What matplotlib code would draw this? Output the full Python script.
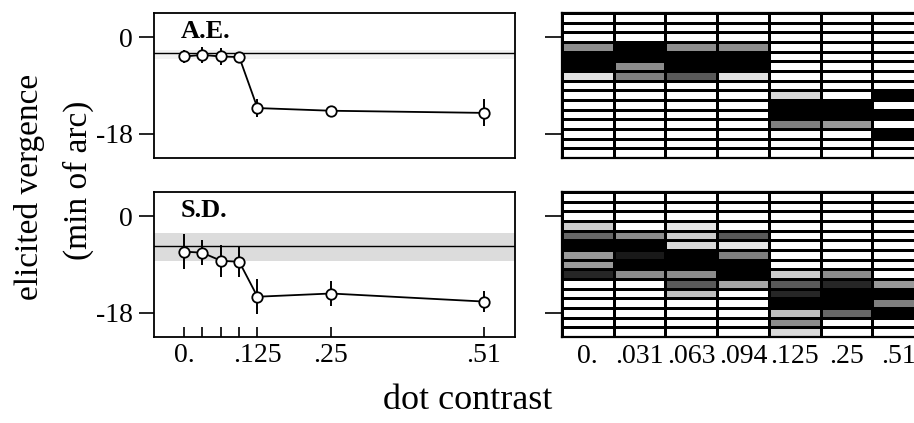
import numpy as np
import matplotlib
matplotlib.use("Agg")
import matplotlib.pyplot as plt

plt.rcParams['font.family'] = ['Liberation Serif', 'DejaVu Serif']

# ---------------- data ----------------
contrast = [0.0, 0.031, 0.063, 0.094, 0.125, 0.25, 0.51]
tick_lab_left = ['0.', '', '', '', '.125', '.25', '.51']
tick_lab_right = ['0.', '.031', '.063', '.094', '.125', '.25', '.51']

ae_mean = [-3.6, -3.3, -3.6, -3.7, -13.2, -13.7, -14.1]
ae_err = [1.2, 1.5, 1.6, 1.0, 1.7, 0.8, 2.5]
ae_ref = -3.0
ae_band = (-2.4, -4.0)

sd_mean = [-6.6, -6.8, -8.3, -8.5, -15.0, -14.4, -15.9]
sd_err = [3.3, 2.3, 3.0, 2.9, 3.3, 2.3, 2.0]
sd_ref = -5.55
sd_band = (-3.05, -8.3)

# histogram shading (rows top->bottom, 15 bins of 1.8 min arc; columns = contrasts)
ae_hist = [
    [0, 0, 0, 0, 0, 0, 0],
    [0, 0, 0, 0, 0, 0, 0],
    [0, 0, 0, 0, 0, 0, 0],
    [.45, 1, .45, .45, 0, 0, 0],
    [1, 1, 1, 1, 0, 0, 0],
    [1, .45, 1, 1, 0, 0, 0],
    [.12, .5, .65, .12, 0, 0, 0],
    [0, 0, 0, 0, 0, 0, 0],
    [0, 0, 0, 0, .15, 0, 1],
    [0, 0, 0, 0, 1, 1, 0],
    [0, 0, 0, 0, 1, 1, 1],
    [0, 0, 0, 0, .5, .4, 0],
    [0, 0, 0, 0, 0, 0, 1],
    [0, 0, 0, 0, 0, 0, 0],
    [0, 0, 0, 0, 0, 0, 0],
]
sd_hist = [
    [0, 0, 0, 0, 0, 0, 0],
    [0, 0, 0, 0, 0, 0, 0],
    [0, 0, 0, 0, 0, 0, 0],
    [.2, 0, .1, 0, 0, 0, 0],
    [.6, .45, .2, .65, 0, 0, 0],
    [1, 1, .15, .1, 0, 0, 0],
    [.4, .9, 1, .5, 0, 0, 0],
    [.4, 1, 1, 1, 0, 0, 0],
    [.85, .45, .45, 1, .2, .45, 0],
    [0, 0, .65, .35, .65, .85, .4],
    [0, 0, .25, 0, .85, 1, 1],
    [0, 0, 0, 0, 1, 1, .5],
    [0, 0, 0, 0, .25, .6, 1],
    [0, 0, 0, 0, .45, 0, 0],
    [0, 0, 0, 0, .15, 0, 0],
]
bin_top = 4.5
bin_width = 1.8

# ---------------- figure ----------------
W, H = 914, 423
fig = plt.figure(figsize=(W / 100, H / 100), dpi=100)

def px_axes(x0, y0, x1, y1):
    return fig.add_axes([x0 / W, 1 - y1 / H, (x1 - x0) / W, (y1 - y0) / H])

ylim = (-22.5, 4.5)
tick_fs = 20

def style_left(ax, bottom):
    ax.set_xlim(-0.051, 0.563)
    ax.set_ylim(*ylim)
    ax.set_yticks([0, -18])
    ax.set_yticklabels(['0', '-18'], fontsize=tick_fs)
    ax.tick_params(axis='y', direction='out', length=11, width=1.2, pad=4)
    for s in ax.spines.values():
        s.set_linewidth(1.3)
    if bottom:
        ax.set_xticks(contrast)
        ax.set_xticklabels(tick_lab_left, fontsize=tick_fs)
        ax.tick_params(axis='x', direction='in', length=7, width=1.2, pad=4)
    else:
        ax.set_xticks([])

def draw_left(ax, mean, err, ref, band, band_color, label):
    ax.axhspan(band[1], band[0], color=band_color, lw=0, zorder=0)
    ax.axhline(ref, color='black', lw=1.0, zorder=1)
    ax.errorbar(contrast, mean, yerr=err, fmt='-o', color='black', lw=1.3,
                elinewidth=1.4, capsize=0, ms=7.5, mfc='white', mec='black',
                mew=1.3, zorder=3)
    ax.text(0.075, 0.95, label, transform=ax.transAxes, fontsize=19,
            fontweight='bold', va='top', ha='left')

def draw_right(ax, hist, bottom):
    data = np.array(hist)
    nrows, ncols = data.shape
    xe = np.arange(ncols + 1)
    ye = bin_top - bin_width * np.arange(nrows + 1)
    ax.pcolormesh(xe, ye, data, cmap='gray_r', vmin=0, vmax=1,
                  edgecolors='black', linewidth=0.85, shading='flat')
    ax.set_xlim(0, ncols)
    ax.set_ylim(*ylim)
    ax.set_yticks([0, -18])
    ax.set_yticklabels([])
    ax.tick_params(axis='y', direction='out', length=12, width=1.2)
    for s in ax.spines.values():
        s.set_linewidth(1.6)
    if bottom:
        ax.set_xticks(np.arange(ncols) + 0.5)
        ax.set_xticklabels(tick_lab_right, fontsize=tick_fs)
        ax.tick_params(axis='x', length=0, pad=5)
    else:
        ax.set_xticks([])

ax1 = px_axes(154, 13, 515, 158)
draw_left(ax1, ae_mean, ae_err, ae_ref, ae_band, '#f2f2f2', 'A.E.')
style_left(ax1, False)

ax2 = px_axes(154, 192, 515, 337)
draw_left(ax2, sd_mean, sd_err, sd_ref, sd_band, '#dcdcdc', 'S.D.')
style_left(ax2, True)

ax3 = px_axes(562, 13, 924, 158)
draw_right(ax3, ae_hist, False)

ax4 = px_axes(562, 192, 924, 337)
draw_right(ax4, sd_hist, True)

fig.text(30 / W, 1 - 187 / H, 'elicited vergence', rotation=90, fontsize=24,
         ha='center', va='center')
fig.text(78 / W, 1 - 180 / H, '(min of arc)', rotation=90, fontsize=24,
         ha='center', va='center')
fig.text(468 / W, 1 - 400 / H, 'dot contrast', fontsize=26,
         ha='center', va='center')

fig.savefig('out.png', dpi=100)
